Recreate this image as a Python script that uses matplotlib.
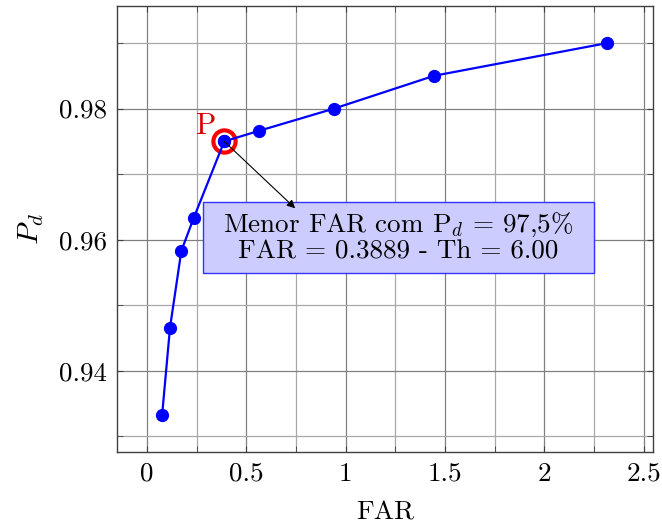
import matplotlib
matplotlib.use("Agg")
import matplotlib.pyplot as plt
from matplotlib.patches import Rectangle
from matplotlib.ticker import MultipleLocator, FixedLocator

plt.rcParams['font.family'] = 'serif'
plt.rcParams['font.serif'] = ['cmr10']
plt.rcParams['mathtext.fontset'] = 'cm'
plt.rcParams['axes.formatter.use_mathtext'] = True

far = [0.076, 0.116, 0.173, 0.235, 0.3889, 0.563, 0.942, 1.445, 2.318]
pd_vals = [0.9332, 0.9466, 0.9583, 0.9633, 0.975, 0.9766, 0.980, 0.985, 0.990]
best_far = 0.3889
best_pd = 0.975
xticks = [0, 0.5, 1, 1.5, 2, 2.5]
xticklabels = ['0', '0.5', '1', '1.5', '2', '2.5']
yticks = [0.94, 0.96, 0.98]
yticklabels = ['0.94', '0.96', '0.98']
note = 'Menor FAR com P$_d$ = 97,5%\nFAR = 0.3889 - Th = 6.00'

FS = 19.5

fig = plt.figure(figsize=(6.62, 5.24), dpi=100)
ax = fig.add_axes([0.177, 0.137, 0.809, 0.851])

ax.plot(far, pd_vals, color='#0000ff', lw=1.6, marker='o', ms=8.5, zorder=3)
ax.plot([best_far], [best_pd], marker='o', ms=16, mfc='none', mec='#ff0000', mew=3, zorder=2)
ax.plot([best_far], [best_pd], marker='o', ms=8.5, color='#0000ff', zorder=4)

ax.text(0.296, 0.9762, 'P', color='#d40000', fontsize=FS + 2, ha='center', va='baseline', zorder=5)

ax.annotate('', xy=(0.746, 0.9648), xytext=(best_far, best_pd),
            arrowprops=dict(arrowstyle='-|>', color='black', lw=0.8, mutation_scale=12,
                            shrinkA=0, shrinkB=0), zorder=6)
ax.add_patch(Rectangle((0.282, 0.955), 2.248 - 0.282, 0.9658 - 0.955,
                       fc='#ccccff', ec='#3333ff', lw=1.0, zorder=5))
ax.text(1.265, 0.9604, note, fontsize=FS, ha='center', va='center', linespacing=1.05, zorder=6)

ax.set_xlim(-0.15, 2.546)
ax.set_ylim(0.9276, 0.9956)
ax.xaxis.set_major_locator(FixedLocator(xticks))
ax.set_xticklabels(xticklabels)
ax.yaxis.set_major_locator(FixedLocator(yticks))
ax.set_yticklabels(yticklabels)
ax.xaxis.set_minor_locator(MultipleLocator(0.25))
ax.yaxis.set_minor_locator(FixedLocator([0.93, 0.95, 0.97, 0.99]))
ax.grid(which='major', color='#808080', lw=0.9)
ax.grid(which='minor', color='#a8a8a8', lw=0.9)
ax.set_axisbelow(True)
ax.tick_params(which='both', direction='in', top=True, right=True, labelsize=FS, length=4, color='#404040')
ax.tick_params(which='major', pad=7)
for s in ax.spines.values():
    s.set_color('#404040')
    s.set_linewidth(1.0)

ax.set_xlabel('FAR', fontsize=FS, labelpad=11)
ax.set_ylabel('$P_d$', fontsize=FS + 2, labelpad=10)

fig.savefig('out.png', dpi=100)
